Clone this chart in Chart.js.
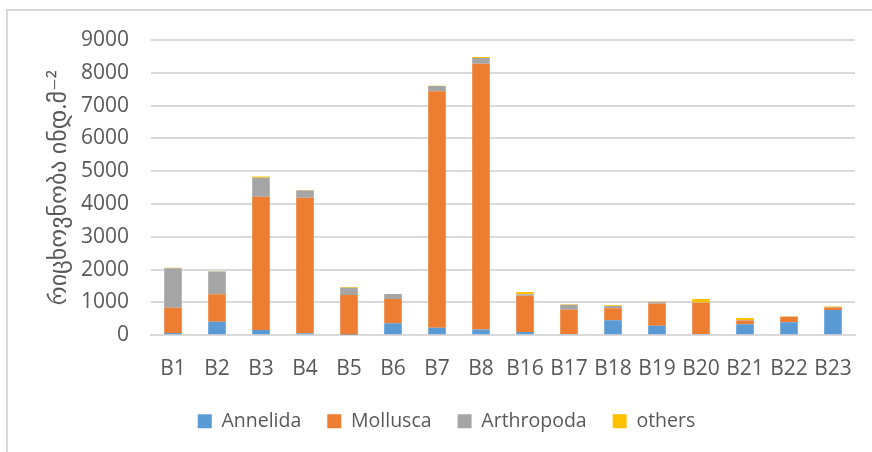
<!DOCTYPE html>
<html>
<head>
<meta charset="utf-8">
<script src="https://cdn.jsdelivr.net/npm/chart.js@4.4.1/dist/chart.umd.min.js"></script>
<style>
    html, body { margin: 0; padding: 0; background: #ffffff; overflow: hidden; }
    #wrap { position: relative; width: 872px; height: 452px; }
    #frame {
        position: absolute; left: 6px; top: 9px; width: 900px; height: 480px;
        border: 2px solid #d9d9d9; box-sizing: border-box;
    }
    canvas { position: absolute; left: 0; top: 0; }
</style>
</head>
<body>
<div id="wrap">
    <div id="frame"></div>
    <canvas id="myChart" width="872" height="452"></canvas>
</div>
<script>
const stations = ['B1', 'B2', 'B3', 'B4', 'B5', 'B6', 'B7', 'B8',
    'B16', 'B17', 'B18', 'B19', 'B20', 'B21', 'B22', 'B23'];

const annelida   = [70, 414, 160, 60, 20, 365, 233, 180, 104, 42, 458, 292, 42, 334, 395, 770];
const mollusca   = [770, 840, 4060, 4130, 1206, 740, 7204, 8097, 1104, 740, 365, 666, 948, 120, 162, 81];
const arthropoda = [1200, 690, 580, 225, 223, 150, 162, 173, 42, 146, 73, 52, 10, 12, 10, 10];
const others     = [20, 5, 40, 10, 20, 5, 5, 30, 73, 20, 20, 15, 104, 60, 10, 20];

const yTicks = [0, 1000, 2000, 3000, 4000, 5000, 6000, 7000, 8000, 9000];

const textColor = '#595959';
const gridColor = '#d9d9d9';
const fontFamily = "'Open Sans', 'DejaVu Sans', sans-serif";

function series(label, values, color) {
    return {
        label: label,
        data: values,
        backgroundColor: color,
        borderWidth: 0,
        categoryPercentage: 1.0,
        barPercentage: 0.4
    };
}

const data = {
    labels: stations,
    datasets: [
        series('Annelida', annelida, '#5b9bd5'),
        series('Mollusca', mollusca, '#ed7d31'),
        series('Arthropoda', arthropoda, '#a5a5a5'),
        series('others', others, '#ffc000')
    ]
};

// pull the legend row a bit closer to the category labels
const legendNudge = {
    id: 'legendNudge',
    afterLayout: function (chart) {
        chart.legend.top -= 9;
        chart.legend.bottom -= 9;
    }
};

const config = {
    type: 'bar',
    data: data,
    plugins: [legendNudge],
    options: {
        responsive: false,
        animation: false,
        layout: {
            padding: { left: 38, right: 17, top: 40, bottom: 2 }
        },
        plugins: {
            tooltip: { enabled: false },
            legend: {
                position: 'bottom',
                labels: {
                    color: textColor,
                    font: { family: fontFamily, size: 19.5 },
                    boxWidth: 14,
                    boxHeight: 14,
                    padding: 26
                }
            }
        },
        scales: {
            x: {
                stacked: true,
                grid: { display: false },
                border: { display: true, color: gridColor, width: 2 },
                ticks: {
                    color: textColor,
                    font: { family: fontFamily, size: 21 },
                    padding: 13,
                    maxRotation: 0,
                    minRotation: 0,
                    autoSkip: false
                }
            },
            y: {
                stacked: true,
                min: 0,
                max: 9000,
                afterBuildTicks: function (axis) {
                    axis.ticks = yTicks.map(function (v) { return { value: v }; });
                },
                afterFit: function (axis) {
                    axis.width = 113;
                },
                grid: { color: gridColor, lineWidth: 2, drawTicks: false },
                border: { display: false },
                ticks: {
                    color: textColor,
                    font: { family: fontFamily, size: 21 },
                    padding: 22,
                    callback: function (value) { return String(value); }
                },
                title: {
                    display: true,
                    text: 'რიცხოვნობა ინდ.მ⁻²',
                    color: textColor,
                    font: { family: fontFamily, size: 24 },
                    padding: { top: 7, bottom: 14 }
                }
            }
        }
    }
};

const myChart = new Chart(
    document.getElementById('myChart'),
    config
);
</script>
</body>
</html>
